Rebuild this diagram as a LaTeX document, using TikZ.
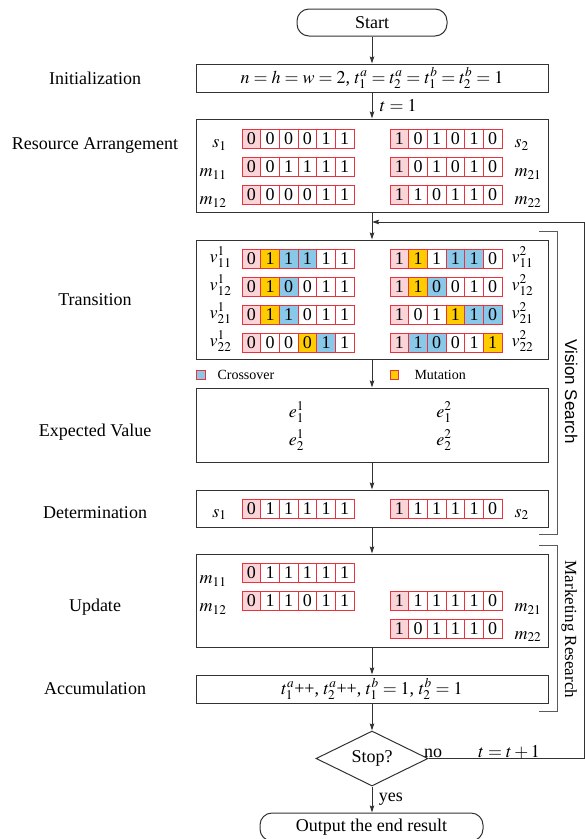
\documentclass[tikz,border=0pt]{standalone}
\usepackage{mathptmx}
\usepackage{fontspec}
\setmainfont{Liberation Serif}
\newfontfamily\sansface{Liberation Sans}
\usetikzlibrary{shapes.geometric,arrows.meta}

\definecolor{ink}{RGB}{50,50,50}
\definecolor{bitedge}{RGB}{232,50,60}
\definecolor{bitP}{RGB}{250,212,216}
\definecolor{bitY}{RGB}{255,204,0}
\definecolor{bitB}{RGB}{138,200,234}
\definecolor{bitW}{RGB}{255,255,255}

\newcommand\bodysize{\fontsize{18}{21.6}\selectfont}
\newcommand\legendsize{\fontsize{14}{16.8}\selectfont}
\newcommand\sidesize{\fontsize{17}{20.4}\selectfont}

% one chromosome: node-name prefix, left x, centre y, list of colour/bit pairs
\newcommand\bitrow[4]{%
  \foreach \bc/\bd [count=\k from 0] in {#4}
    \node[cell, fill=bit\bc] (#1-\k) at ({#2+9.335+18.67*\k},#3) {\bd};}

\tikzset{
  stage/.style={draw=ink, line width=1pt, inner sep=0pt, minimum width=352pt},
  terminal/.style={draw=ink, line width=1pt, rounded corners=12pt, inner sep=0pt},
  decision/.style={diamond, draw=ink, line width=1pt, inner sep=0pt, aspect=2,
    minimum width=112pt, minimum height=55pt},
  cell/.style={draw=bitedge, line width=1pt, minimum width=18.67pt,
    minimum height=19pt, inner sep=0pt},
  legendbox/.style={draw=bitedge, line width=1pt, minimum width=8.5pt,
    minimum height=8.5pt, inner sep=0pt},
  flow/.style={draw=ink, line width=1pt, -{Stealth[length=7pt,width=4.5pt,inset=1pt]}},
  bracket/.style={draw=ink!80, line width=1pt},
  phase/.style={anchor=base},
  tagL/.style={anchor=base east},
  tagR/.style={anchor=base west},
}

\begin{document}
\begin{tikzpicture}[x=1pt, y=-1pt, every node/.style={font=\bodysize}]
\path[use as bounding box] (0,0) rectangle (585,839);

% ---- main column of boxes ----
\node[terminal, minimum width=150pt, minimum height=27pt] (start) at (372,22.5) {Start};
\node[stage, minimum height=28pt] (init) at (372,78)
  {$n = h = w = 2$, $t_1^a = t_2^a = t_1^b = t_2^b = 1$};
\node[stage, minimum height=93pt]  (arrange) at (372,165.5) {};
\node[stage, minimum height=119pt] (trans)   at (372,299.5) {};
\node[stage, minimum height=74pt]  (expect)  at (372,425) {};
\node[stage, minimum height=37pt]  (decide)  at (372,508.5) {};
\node[stage, minimum height=93pt]  (update)  at (372,600.5) {};
\node[stage, minimum height=28pt]  (accum)   at (372,689)
  {$t_1^a$++, $t_2^a$++, $t_1^b = 1$, $t_2^b = 1$};
\node[decision] (stop) at (372,758.5) {Stop?};
\node[terminal, minimum width=223pt, minimum height=28pt] (output) at (371.5,827)
  {Output the end result};

% ---- phase names ----
\node[phase] (lInit)   at (95,84)    {Initialization};
\node[phase] (lArr)    at (95,149.5) {Resource Arrangement};
\node[phase] (lTrans)  at (95,305)   {Transition};
\node[phase] (lExp)    at (95,436)   {Expected Value};
\node[phase] (lDet)    at (95,518)   {Determination};
\node[phase] (lUpd)    at (95,611)   {Update};
\node[phase] (lAcc)    at (95,694)   {Accumulation};

% ---- resource arrangement ----
\bitrow{sA}{242}{138.5}{P/0,W/0,W/0,W/0,W/1,W/1}
\bitrow{sB}{390}{138.5}{P/1,W/0,W/1,W/0,W/1,W/0}
\bitrow{mAA}{242}{166.5}{P/0,W/0,W/1,W/1,W/1,W/1}
\bitrow{mBA}{390}{166.5}{P/1,W/0,W/1,W/0,W/1,W/0}
\bitrow{mAB}{242}{194.5}{P/0,W/0,W/0,W/0,W/1,W/1}
\bitrow{mBB}{390}{194.5}{P/1,W/1,W/0,W/1,W/1,W/0}
\node[tagL] (tsA)  at (230,147.5) {$s_1$};
\node[tagR] (tsB)  at (511,147.5) {$s_2$};
\node[tagL] (tmAA) at (230,176.5) {$m_{11}$};
\node[tagR] (tmBA) at (511,176.5) {$m_{21}$};
\node[tagL] (tmAB) at (230,204.5) {$m_{12}$};
\node[tagR] (tmBB) at (511,204.5) {$m_{22}$};

% ---- transition ----
\bitrow{vA1}{242}{258.5}{P/0,Y/1,B/1,B/1,W/1,W/1}
\bitrow{vB1}{390}{258.5}{P/1,Y/1,W/1,B/1,B/1,W/0}
\bitrow{vA2}{242}{287}{P/0,Y/1,B/0,W/0,W/1,W/1}
\bitrow{vB2}{390}{287}{P/1,Y/1,B/0,W/0,W/1,W/0}
\bitrow{vA3}{242}{315}{P/0,Y/1,B/1,W/0,W/1,W/1}
\bitrow{vB3}{390}{315}{P/1,W/0,W/1,Y/1,B/1,B/0}
\bitrow{vA4}{242}{343}{P/0,W/0,W/0,Y/0,B/1,W/1}
\bitrow{vB4}{390}{343}{P/1,B/1,B/0,W/0,W/1,Y/1}
\node[tagL] (tvA1) at (235,262)   {$v_{11}^1$};
\node[tagR] (tvB1) at (508,262)   {$v_{11}^2$};
\node[tagL] (tvA2) at (235,290.5) {$v_{12}^1$};
\node[tagR] (tvB2) at (508,290.5) {$v_{12}^2$};
\node[tagL] (tvA3) at (235,318.5) {$v_{21}^1$};
\node[tagR] (tvB3) at (508,318.5) {$v_{21}^2$};
\node[tagL] (tvA4) at (235,346.5) {$v_{22}^1$};
\node[tagR] (tvB4) at (508,346.5) {$v_{22}^2$};

% legend
\node[legendbox, fill=bitB] (keyX) at (201,375) {};
\node[anchor=base west, font=\legendsize] (keyXtext) at (214,379) {Crossover};
\node[legendbox, fill=bitY] (keyM) at (394.5,375) {};
\node[anchor=base west, font=\legendsize] (keyMtext) at (411,379) {Mutation};

% ---- expected value ----
\node[anchor=base] (eA1) at (296.5,417)   {$e_1^1$};
\node[anchor=base] (eA2) at (296.5,445.5) {$e_2^1$};
\node[anchor=base] (eB1) at (444,417)     {$e_1^2$};
\node[anchor=base] (eB2) at (444,445.5)   {$e_2^2$};

% ---- determination ----
\bitrow{dA}{242}{508.5}{P/0,W/1,W/1,W/1,W/1,W/1}
\bitrow{dB}{390}{508.5}{P/1,W/1,W/1,W/1,W/1,W/0}
\node[tagL] (tdA) at (230,517) {$s_1$};
\node[tagR] (tdB) at (511,517) {$s_2$};

% ---- update ----
\bitrow{uAA}{242}{573}{P/0,W/1,W/1,W/1,W/1,W/1}
\bitrow{uAB}{242}{601}{P/0,W/1,W/1,W/0,W/1,W/1}
\bitrow{uBA}{390}{601}{P/1,W/1,W/1,W/1,W/1,W/0}
\bitrow{uBB}{390}{628.5}{P/1,W/0,W/1,W/1,W/1,W/0}
\node[tagL] (tuAA) at (230,583.5) {$m_{11}$};
\node[tagL] (tuAB) at (230,611.5) {$m_{12}$};
\node[tagR] (tuBA) at (511,611.5) {$m_{21}$};
\node[tagR] (tuBB) at (511,639)   {$m_{22}$};

% ---- connectors ----
\coordinate (rejoin) at (372,222);
\coordinate (loopA) at (584,758.5);
\coordinate (loopB) at (584,222);
\draw[flow] (start) -- (init);
\draw[flow] (init) -- node[right=4pt] (tone) {$t = 1$} (arrange);
\draw[flow] (arrange) -- (trans);
\draw[flow] (trans) -- (expect);
\draw[flow] (expect) -- (decide);
\draw[flow] (decide) -- (update);
\draw[flow] (update) -- (accum);
\draw[flow] (accum) -- (stop);
\draw[flow] (stop.south) -- node[right=3pt] (yes) {yes} (stop.south |- output.north);
\draw[flow] (stop.east) -- (loopA) -- (loopB) -- (rejoin);
\node[anchor=base] (no) at (433,757) {no};
\node[anchor=base] (incr) at (509,757) {$t = t + 1$};

% ---- side brackets ----
\draw[bracket] (539,231) -- (557,231) -- (557,534) -- (539,534);
\draw[bracket] (539,545) -- (557,545) -- (557,711.5) -- (539,711.5);
\node[rotate=-90, anchor=base, font=\sansface\sidesize] (vision) at (565,391.5) {Vision Search};
\node[rotate=-90, anchor=base, font=\sidesize] (market) at (565,629.5) {Marketing Research};
\end{tikzpicture}
\end{document}
